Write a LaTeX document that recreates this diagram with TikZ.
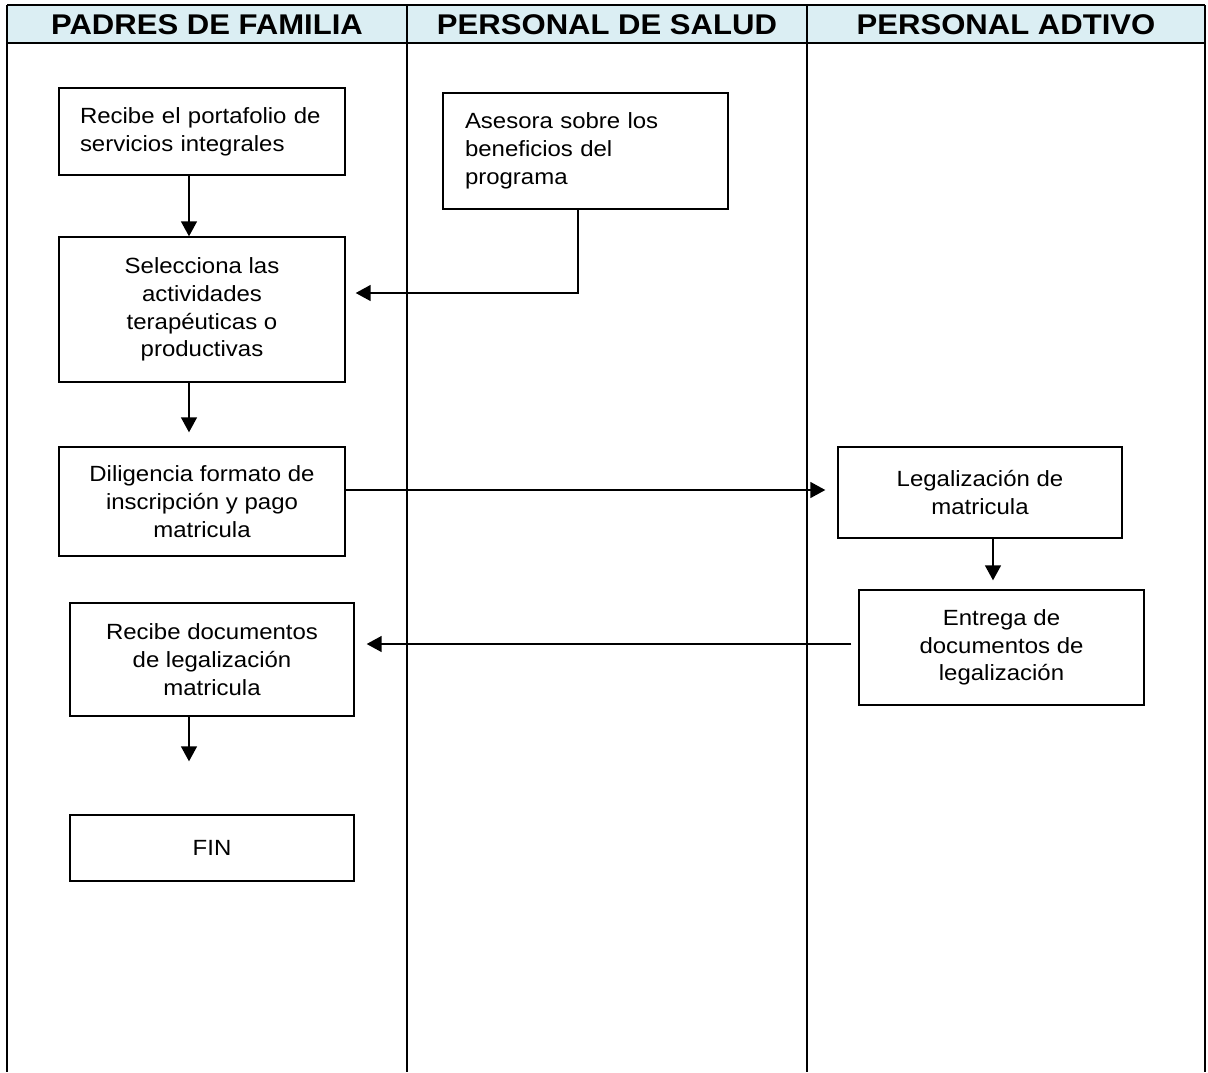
\documentclass[tikz,border=0pt]{standalone}
\usepackage{fontspec}
\setmainfont{Liberation Sans}[FakeStretch=1.09]
\newfontfamily\hdrfont{Liberation Sans}[FakeStretch=1.09]
\usetikzlibrary{arrows.meta}
\definecolor{hdrblue}{HTML}{DBEEF3}
\begin{document}
\begin{tikzpicture}[x=1pt,y=-1pt,
  box/.style={draw=black, line width=1.4pt, inner sep=0pt, font=\fontsize{22}{27.7}\selectfont},
  lbox/.style={box, align=left, inner xsep=21pt},
  cbox/.style={box, align=center},
  arr/.style={-{Triangle[length=15pt,width=16pt]}, line width=1.5pt},
  lane/.style={line width=1.4pt},
  hdr/.style={font=\hdrfont\bfseries\fontsize{28.5}{30}\selectfont}]
\useasboundingbox (0,0) rectangle (1208,1072);
% header band
\fill[hdrblue] (7,5) rectangle (1205,43);
\draw[lane] (7,5) -- (1205,5);
\draw[lane] (7,43) -- (1205,43);
\foreach \x in {7,407,807,1205} \draw[lane] (\x,5) -- (\x,1072);
\node[hdr] (h1) at (207,25) {PADRES DE FAMILIA};
\node[hdr] (h2) at (607,25) {PERSONAL DE SALUD};
\node[hdr] (h3) at (1006,25) {PERSONAL ADTIVO};
% boxes
\node[lbox, text width=244pt, minimum height=87pt] (b1) at (202,131.5)
  {Recibe el portafolio de\\servicios integrales};
\node[lbox, inner xsep=22pt, text width=241pt, minimum height=116pt] (b2) at (585.5,151)
  {Asesora sobre los\\beneficios del\\programa};
\node[cbox, minimum width=286pt, minimum height=145pt] (b3) at (202,309.5)
  {Selecciona las\\actividades\\terapéuticas o\\productivas};
\node[cbox, minimum width=286pt, minimum height=109pt] (b4) at (202,501.5)
  {Diligencia formato de\\inscripción y pago\\matricula};
\node[cbox, minimum width=284pt, minimum height=91pt] (b5) at (980,492.5)
  {Legalización de\\matricula};
\node[cbox, minimum width=285pt, minimum height=115pt] (b6) at (1001.5,647.5)
  {Entrega de\\documentos de\\legalización};
\node[cbox, minimum width=284pt, minimum height=113pt] (b7) at (212,659.5)
  {Recibe documentos\\de legalización\\matricula};
\node[cbox, minimum width=284pt, minimum height=66pt] (b8) at (212,848)
  {FIN};
% helper coordinates
\coordinate (xa) at (189,0);
\coordinate (xb) at (578,0);
\coordinate (yb) at (0,293);
\coordinate (yc) at (0,490);
\coordinate (xd) at (993,0);
\coordinate (ye) at (0,644);
% connectors
\draw[arr] (b1.south -| xa) -- (b3.north -| xa);
\draw[arr, shorten >=10pt] (b2.south -| xb) |- (b3.east |- yb);
\draw[arr, shorten >=14pt] (b3.south -| xa) -- (b4.north -| xa);
\draw[arr, shorten >=12pt] (b4.east |- yc) -- (b5.west |- yc);
\draw[arr, shorten >=9pt] (b5.south -| xd) -- (b6.north -| xd);
\draw[arr, shorten <=7pt, shorten >=12pt] (b6.west |- ye) -- (b7.east |- ye);
\draw[arr, shorten >=53pt] (b7.south -| xa) -- (b8.north -| xa);
\end{tikzpicture}
\end{document}
